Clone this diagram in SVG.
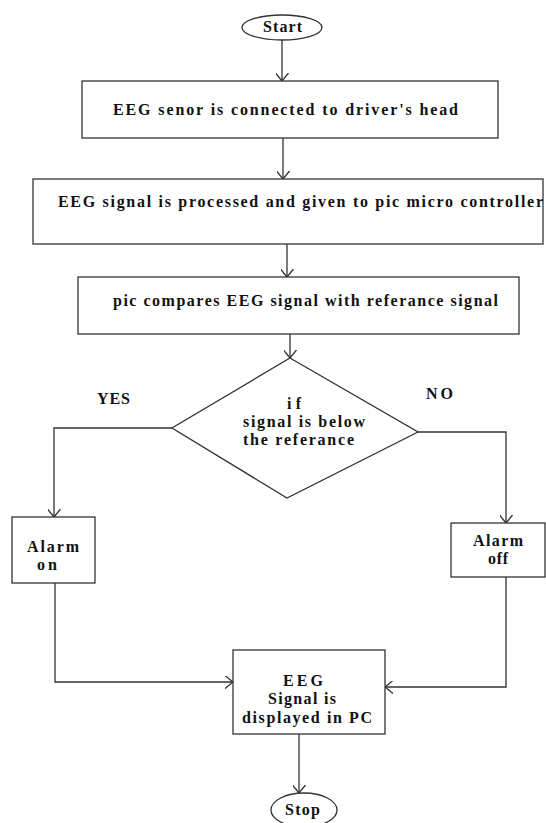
<svg xmlns="http://www.w3.org/2000/svg" width="546" height="823" viewBox="0 0 546 823">
<style>
.n{fill:#fff;stroke:#333;stroke-width:1.3}
.t{font-family:"Liberation Serif","Times New Roman",serif;font-weight:bold;font-size:16px;fill:#111}
.c{fill:none;stroke:#333;stroke-width:1.3}
</style>
<defs>
<marker id="ah" viewBox="0 0 10 10" refX="10" refY="5" markerWidth="8" markerHeight="13" markerUnits="userSpaceOnUse" orient="auto" preserveAspectRatio="none">
<path d="M0,0 L10,5 L0,10" fill="none" stroke="#333" stroke-width="1.2"/>
</marker>
</defs>
<rect width="546" height="823" fill="#fff"/>
<g id="connectors">
<path class="c" d="M282,40 V81" marker-end="url(#ah)"/>
<path class="c" d="M283,138 V179" marker-end="url(#ah)"/>
<path class="c" d="M287,244 V277" marker-end="url(#ah)"/>
<path class="c" d="M290,334 V358" marker-end="url(#ah)"/>
<path class="c" d="M172,428 H54 V517" marker-end="url(#ah)"/>
<path class="c" d="M418,432 H506 V523" marker-end="url(#ah)"/>
<path class="c" d="M55,583 V682 H233" marker-end="url(#ah)"/>
<path class="c" d="M506,577 V687 H385" marker-end="url(#ah)"/>
<path class="c" d="M299,734 V793" marker-end="url(#ah)"/>
</g>
<g id="start">
<ellipse class="n" cx="282" cy="27.5" rx="40" ry="12.5"/>
<text class="t" x="263" y="32" textLength="39" lengthAdjust="spacing">Start</text>
</g>
<g id="sensor">
<rect class="n" x="82" y="81" width="416" height="57"/>
<text class="t" x="113" y="115" textLength="345" lengthAdjust="spacing">EEG senor is connected to driver's head</text>
</g>
<g id="process">
<rect class="n" x="33" y="179" width="510" height="65"/>
<text class="t" x="58" y="207" textLength="485" lengthAdjust="spacing">EEG signal is processed and given to pic micro controller</text>
</g>
<g id="compare">
<rect class="n" x="78" y="277" width="441" height="57"/>
<text class="t" x="113" y="306" textLength="385" lengthAdjust="spacing">pic compares EEG signal with referance signal</text>
</g>
<g id="decision">
<polygon class="n" points="290,358 418,432 287,498 172,428"/>
<text class="t" x="287" y="409" textLength="14" lengthAdjust="spacing">if</text>
<text class="t" x="243" y="427" textLength="122" lengthAdjust="spacing">signal is below</text>
<text class="t" x="243" y="445" textLength="111" lengthAdjust="spacing">the referance</text>
</g>
<text class="t" x="97" y="404" textLength="33" lengthAdjust="spacing">YES</text>
<text class="t" x="426" y="399" textLength="27" lengthAdjust="spacing">NO</text>
<g id="alarm-on">
<rect class="n" x="12" y="517" width="83" height="66"/>
<text class="t" x="27" y="552" textLength="52" lengthAdjust="spacing">Alarm</text>
<text class="t" x="37" y="570" textLength="20" lengthAdjust="spacing">on</text>
</g>
<g id="alarm-off">
<rect class="n" x="451" y="523" width="94" height="54"/>
<text class="t" x="473" y="546" textLength="50" lengthAdjust="spacing">Alarm</text>
<text class="t" x="488" y="564" textLength="20" lengthAdjust="spacing">off</text>
</g>
<g id="display">
<rect class="n" x="233" y="650" width="152" height="84"/>
<text class="t" x="283" y="686" textLength="40" lengthAdjust="spacing">EEG</text>
<text class="t" x="268" y="704" textLength="68" lengthAdjust="spacing">Signal is</text>
<text class="t" x="242" y="723" textLength="130" lengthAdjust="spacing">displayed in PC</text>
</g>
<g id="stop">
<ellipse class="n" cx="304" cy="810" rx="33" ry="17"/>
<text class="t" x="285" y="815" textLength="35" lengthAdjust="spacing">Stop</text>
</g>
</svg>
